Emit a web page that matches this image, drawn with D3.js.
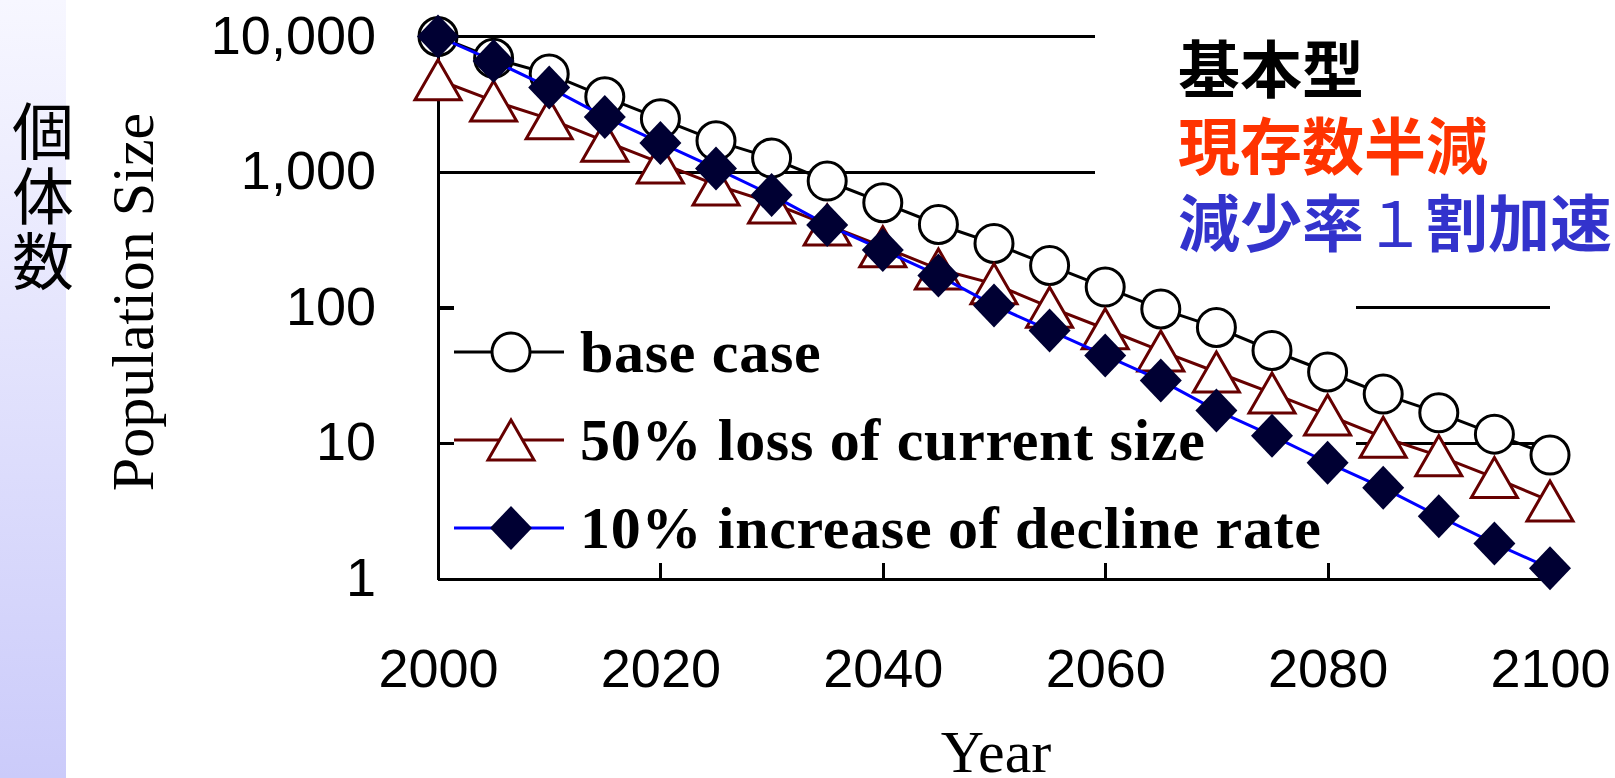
<!DOCTYPE html>
<html>
<head>
<meta charset="utf-8">
<script src="https://cdn.jsdelivr.net/npm/d3@7"></script>
<style>
  body { margin: 0; background: #fff; }
  svg { display: block; }
</style>
</head>
<body>
<svg id="chart" width="1615" height="778"></svg>
<script>
// population projection, three scenarios, every 5 years
var years = [2000, 2005, 2010, 2015, 2020, 2025, 2030, 2035, 2040, 2045, 2050,
             2055, 2060, 2065, 2070, 2075, 2080, 2085, 2090, 2095, 2100];
var baseCase = [10000, 6900, 5300, 3590, 2470, 1700, 1270, 860, 595, 411, 298,
                205, 142, 98, 71.6, 48.4, 33.6, 23.1, 16.8, 11.7, 8.2];
var halfLoss = [4800, 3350, 2470, 1690, 1170, 805, 593, 408, 282, 193, 150,
                101, 70, 48, 33.6, 23.5, 16.2, 11.1, 8.1, 5.6, 3.76];
var fasterDecline = [10000, 6610, 4215, 2553, 1642, 1065, 679, 408, 267, 173, 104,
                     68, 44.5, 29.1, 17.5, 11.4, 7.2, 4.7, 2.9, 1.83, 1.2];

var xTicks = [2000, 2020, 2040, 2060, 2080, 2100];
var yTicks = [1, 10, 100, 1000, 10000];
var gridValues = [10, 100, 1000, 10000];
var legendLabels = ["base case", "50% loss of current size", "10% increase of decline rate"];
// each label split in pieces so the digit can be set thinner
var jpLabels = [["基本型"], ["現存数半減"], ["減少率", "１", "割加速"]];
var jpColors = ["#000000", "#ff3300", "#3333cc"];
var sideLabel = "個体数";

var svg = d3.select("#chart");

var x = d3.scaleLinear().domain([2000, 2100]).range([438, 1550]);
var y = d3.scaleLog().domain([1, 10000]).range([579, 36.5]);

// left strip
var grad = svg.append("defs").append("linearGradient")
    .attr("id", "strip").attr("x1", 0).attr("y1", 0).attr("x2", 0).attr("y2", 1);
grad.append("stop").attr("offset", "0%").attr("stop-color", "#f7f7ff");
grad.append("stop").attr("offset", "100%").attr("stop-color", "#cbcbfa");
svg.append("rect").attr("x", 0).attr("y", 0).attr("width", 66).attr("height", 778)
    .attr("fill", "url(#strip)");

// gridlines
svg.append("g").selectAll("line").data(gridValues).join("line")
    .attr("x1", x(2000)).attr("x2", x(2100))
    .attr("y1", function(d) { return y(d); }).attr("y2", function(d) { return y(d); })
    .attr("stroke", "#000").attr("stroke-width", 3).attr("shape-rendering", "crispEdges");

// white boxes that hide part of the grid (legend and title boxes)
svg.append("rect").attr("x", 454).attr("y", 285).attr("width", 902).attr("height", 275).attr("fill", "#fff");
svg.append("rect").attr("x", 1095).attr("y", 0).attr("width", 520).attr("height", 265).attr("fill", "#fff");

// axes
var xAxis = svg.append("g").attr("transform", "translate(0," + y(1) + ")")
    .call(d3.axisBottom(x).tickValues(xTicks).tickSizeInner(-16).tickSizeOuter(0).tickFormat(d3.format("d")));
xAxis.selectAll("text").attr("y", 108).attr("dy", null)
    .attr("font-family", "'Liberation Sans', Arial, sans-serif").attr("font-size", 54).attr("fill", "#000");

var yAxis = svg.append("g").attr("transform", "translate(" + x(2000) + ",0)")
    .call(d3.axisLeft(y).tickValues(yTicks).tickSizeInner(-16).tickSizeOuter(0).tickFormat(d3.format(",")));
yAxis.selectAll("text").attr("x", -62).attr("dy", null).attr("y", 16.5)
    .attr("font-family", "'Liberation Sans', Arial, sans-serif").attr("font-size", 54).attr("fill", "#000");

svg.selectAll(".domain, .tick line").attr("stroke", "#000").attr("stroke-width", 3)
    .attr("shape-rendering", "crispEdges");

// series
var trianglePath = "M0,-20L23,20L-23,20Z";
var diamondPath = "M0,-22L21,0L0,22L-21,0Z";

var series = [
  { values: baseCase, line: "#000000", marker: "circle", stroke: "#000000", fill: "#ffffff" },
  { values: halfLoss, line: "#660000", marker: "triangle", stroke: "#660000", fill: "#ffffff" },
  { values: fasterDecline, line: "#0000ff", marker: "diamond", stroke: "none", fill: "#000033" }
];

function drawMarker(g, s) {
  if (s.marker === "circle") {
    g.append("circle").attr("r", 19).attr("fill", s.fill).attr("stroke", s.stroke).attr("stroke-width", 3);
  } else if (s.marker === "triangle") {
    g.append("path").attr("d", trianglePath).attr("fill", s.fill).attr("stroke", s.stroke).attr("stroke-width", 3);
  } else {
    g.append("path").attr("d", diamondPath).attr("fill", s.fill);
  }
}

var line = d3.line()
    .x(function(d, i) { return x(years[i]); })
    .y(function(d) { return y(d); });

series.forEach(function(s) {
  var g = svg.append("g");
  g.append("path").datum(s.values).attr("d", line)
      .attr("fill", "none").attr("stroke", s.line).attr("stroke-width", 3);
  g.selectAll("g").data(s.values).join("g")
      .attr("transform", function(d, i) { return "translate(" + x(years[i]) + "," + y(d) + ")"; })
      .each(function() { drawMarker(d3.select(this), s); });
});

// legend
var legend = svg.append("g");
series.forEach(function(s, i) {
  var ly = 352 + i * 88;
  legend.append("line").attr("x1", 454).attr("x2", 564).attr("y1", ly).attr("y2", ly)
      .attr("stroke", s.line).attr("stroke-width", 3);
  var m = legend.append("g").attr("transform", "translate(511," + ly + ")");
  drawMarker(m, s);
  legend.append("text").attr("x", 580).attr("y", ly + 20)
      .attr("font-family", "'Liberation Serif', 'Times New Roman', serif")
      .attr("font-weight", "bold").attr("font-size", 60).attr("letter-spacing", 0.7)
      .attr("fill", "#000")
      .text(legendLabels[i]);
});

// axis titles
svg.append("text").attr("x", 996).attr("y", 772).attr("text-anchor", "middle")
    .attr("font-family", "'Liberation Serif', 'Times New Roman', serif").attr("font-size", 60)
    .text("Year");
svg.append("text").attr("transform", "translate(153,302) rotate(-90)").attr("text-anchor", "middle")
    .attr("font-family", "'Liberation Serif', 'Times New Roman', serif").attr("font-size", 60)
    .text("Population Size");

// japanese side label, written top to bottom
svg.append("text")
    .attr("x", 43).attr("y", 100)
    .attr("writing-mode", "vertical-rl")
    .attr("letter-spacing", 3)
    .attr("font-family", "'Noto Sans CJK JP', sans-serif").attr("font-size", 62)
    .text(sideLabel);

// scenario names, top right
var names = svg.append("text")
    .attr("font-family", "'Noto Sans CJK JP', sans-serif").attr("font-weight", "bold")
    .attr("font-size", 62);
jpLabels.forEach(function(parts, i) {
  parts.forEach(function(p, j) {
    var t = names.append("tspan").attr("fill", jpColors[i]).text(p);
    if (j === 0) t.attr("x", 1178).attr("y", 93 + i * 77);
    if (p === "１") t.attr("font-weight", "normal");
  });
});
</script>
</body>
</html>
